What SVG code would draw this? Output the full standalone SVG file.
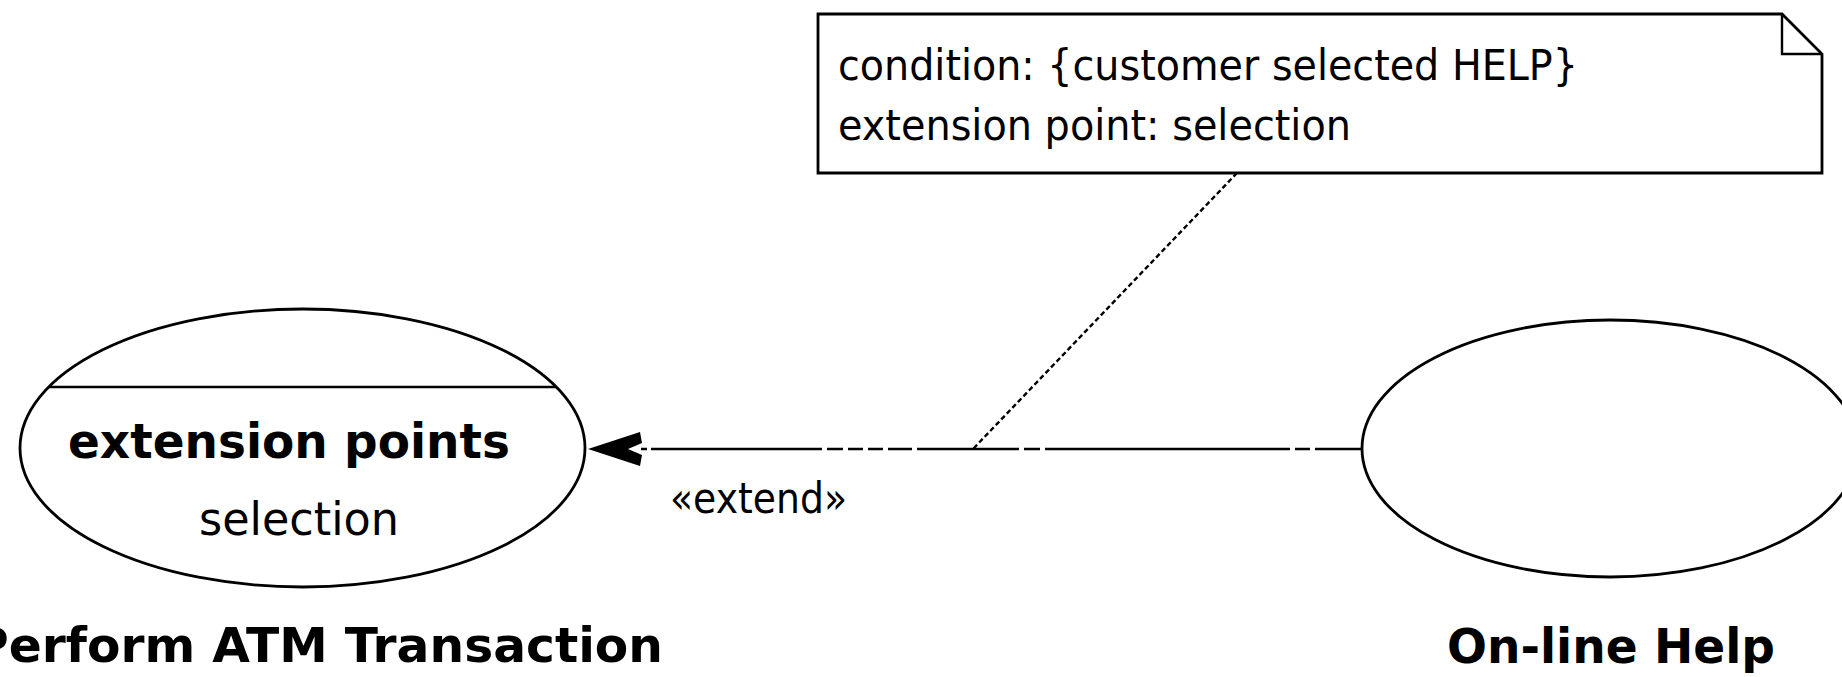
<svg xmlns="http://www.w3.org/2000/svg" width="1842" height="677" viewBox="0 0 1842 677">
<style>
.shape{fill:#fff;stroke:#000;stroke-width:2.8}
.ln{fill:none;stroke:#000;stroke-width:2.4}
.reg{font-family:"DejaVu Sans",Verdana,sans-serif;fill:#000}
.bold{font-family:"DejaVu Sans",Verdana,sans-serif;font-weight:bold;fill:#000}
</style>
<rect width="1842" height="677" fill="#fff"/>
<g id="perform-atm-transaction">
<ellipse class="shape" cx="302.5" cy="448" rx="282.5" ry="139"/>
<line class="ln" x1="49" y1="387" x2="556" y2="387"/>
<text class="bold" x="68" y="458" font-size="48" textLength="442" lengthAdjust="spacingAndGlyphs">extension points</text>
<text class="reg" x="199" y="535" font-size="47" textLength="200" lengthAdjust="spacingAndGlyphs">selection</text>
<text class="bold" x="-27" y="662" font-size="48" textLength="690" lengthAdjust="spacingAndGlyphs">Perform ATM Transaction</text>
</g>
<g id="online-help">
<ellipse class="shape" cx="1610" cy="448.5" rx="248" ry="128.5"/>
<text class="bold" x="1447" y="663" font-size="48" textLength="328" lengthAdjust="spacingAndGlyphs">On-line Help</text>
</g>
<g id="note">
<path class="shape" stroke-width="2.4" d="M818 14 H1782 L1822 54 V173 H818 Z"/>
<path class="ln" d="M1782 14 V54 H1822"/>
<text class="reg" x="838" y="80" font-size="43" textLength="740" lengthAdjust="spacingAndGlyphs">condition: {customer selected HELP}</text>
<text class="reg" x="838" y="140" font-size="43" textLength="513" lengthAdjust="spacingAndGlyphs">extension point: selection</text>
</g>
<g id="connectors">
<path class="ln" d="M641 449H647M651 449H822M827 449H843M848 449H863M868 449H883M888 449H912M917 449H1019M1024 449H1040M1045 449H1290M1295 449H1310M1315 449H1362"/>
<polygon points="588,449 640,432 642,443 628,449 642,455 640,466" fill="#000"/>
<line class="ln" x1="1237" y1="173" x2="973" y2="449" stroke-dasharray="5 3"/>
<text class="reg" x="670" y="513" font-size="42" textLength="177" lengthAdjust="spacingAndGlyphs">«extend»</text>
</g>
</svg>
